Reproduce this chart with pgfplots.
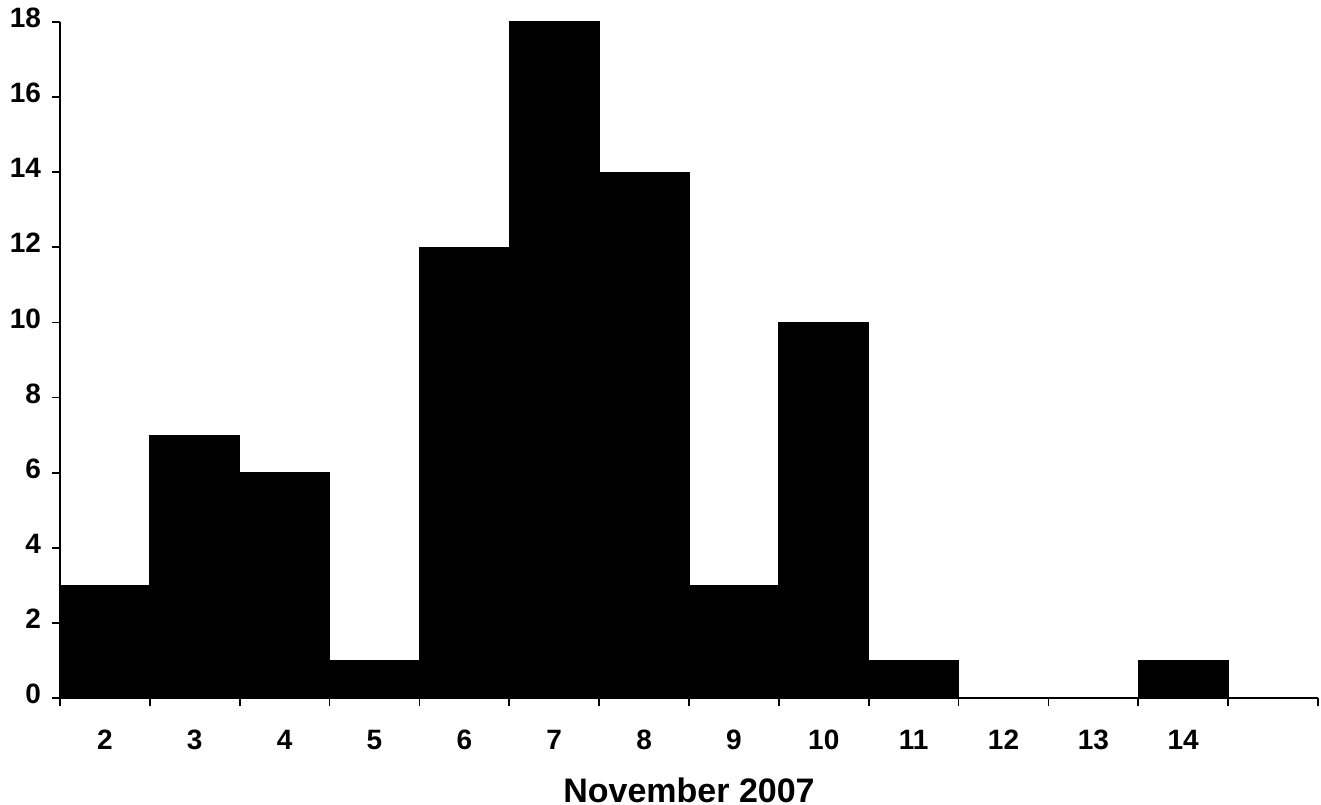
\documentclass[border=0pt]{standalone}
\usepackage{fontspec}
\setmainfont{Liberation Sans}
\usepackage{pgfplots}
\pgfplotsset{compat=1.18}
\begin{document}
\begin{tikzpicture}
\begin{axis}[
  scale only axis,
  width=629pt, height=338pt,
  xmin=1.5, xmax=15.5,
  ymin=0, ymax=18,
  axis lines*=left,
  axis line style={line width=0.9pt},
  tick style={line width=0.9pt, black},
  tick align=outside,
  major tick length=4pt,
  xtick={1.5,2.5,...,15.5},
  x tick label as interval,
  xticklabels={2,3,4,5,6,7,8,9,10,11,12,13,14,{}},
  ytick={0,2,...,18},
  /pgf/number format/assume math mode=true,
  typeset ticklabels with strut,
  ticklabel style={font=\bfseries\fontsize{14}{14}\selectfont},
  xticklabel style={yshift=-8.5pt},
  yticklabel style={xshift=-2pt},
  xlabel={November 2007},
  xlabel style={font=\bfseries\fontsize{17}{17}\selectfont, yshift=-3pt},
  ybar, bar width=1, bar shift=0pt,
  clip=false,
]
\addplot[fill=black, draw=black, line width=0.5pt] coordinates {
 (2,3) (3,7) (4,6) (5,1) (6,12) (7,18) (8,14) (9,3) (10,10) (11,1) (12,0) (13,0) (14,1)
};
\coordinate (sw) at (rel axis cs:0,0);
\coordinate (ne) at (rel axis cs:1,1);
\end{axis}
\pgfresetboundingbox
\path[use as bounding box] ([shift={(-30pt,-53pt)}]sw) rectangle ([shift={(1.5pt,11pt)}]ne);
\end{tikzpicture}
\end{document}
